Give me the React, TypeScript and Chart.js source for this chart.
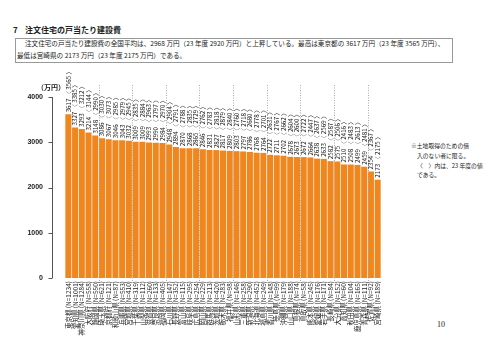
import React, { useEffect, useRef } from "react";
import { Chart, registerables } from "chart.js";
Chart.register(...registerables);

const prefectures = [
  "東京都", "愛知県", "神奈川県", "大阪府", "静岡県", "埼玉県", "京都府", "和歌山県", "兵庫県", "宮城県",
  "千葉県", "山梨県", "滋賀県", "奈良県", "福岡県", "石川県", "長野県", "富山県", "岐阜県", "広島県",
  "岡山県", "群馬県", "茨城県", "栃木県", "福井県", "山形県", "三重県", "新潟県", "北海道", "福島県",
  "香川県", "徳島県", "沖縄県", "山口県", "島根県", "鳥取県", "熊本県", "愛媛県", "岩手県", "長崎県",
  "大分県", "高知県", "秋田県", "鹿児島県", "青森県", "佐賀県", "宮崎県",
];
const sampleSizes = [
  1234, 1001, 1284, 558, 550, 621, 121, 87, 553, 410,
  319, 112, 260, 133, 405, 147, 352, 115, 295, 254,
  229, 213, 420, 283, 98, 146, 258, 290, 452, 249,
  148, 99, 179, 188, 74, 58, 245, 176, 171, 84,
  152, 60, 104, 165, 111, 92, 189,
];
const costs = [
  3617, 3327, 3293, 3214, 3148, 3086, 3067, 3046, 3043, 3032,
  3009, 3009, 2993, 2990, 2984, 2948, 2894, 2870, 2868, 2865,
  2846, 2831, 2827, 2817, 2809, 2803, 2797, 2786, 2768, 2764,
  2722, 2711, 2702, 2678, 2673, 2672, 2664, 2638, 2633, 2582,
  2575, 2510, 2508, 2499, 2459, 2354, 2173,
];
const prevCosts = [
  3565, 3385, 3212, 3144, 2990, 3030, 3073, 2985, 2979, 2945,
  2835, 2884, 2963, 2797, 2970, 2904, 2791, 2788, 2835, 2729,
  2762, 2783, 2818, 2879, 2840, 2760, 2718, 2680, 2778, 2701,
  2631, 2767, 2662, 2604, 2600, 2722, 2447, 2637, 2569, 2587,
  2506, 2416, 2483, 2613, 2481, 2367, 2175,
];
const yTicks = [0, 1000, 2000, 3000, 4000];

const JP = '"Noto Sans CJK JP", "Noto Sans", sans-serif';

export default function App() {
  const ref = useRef<HTMLCanvasElement>(null);

  useEffect(() => {
    const canvas = ref.current;
    if (!canvas) return;
    const labels = prefectures.map((p, i) => `${p} (N=${sampleSizes[i]})`);

    const overlay = {
      id: "overlay",
      afterDatasetsDraw(chart: any) {
        const { ctx, chartArea, scales } = chart;
        const x = scales.x;
        const y = scales.y;
        ctx.save();
        // dotted separators every five bars
        ctx.strokeStyle = "#a8a8a8";
        ctx.lineWidth = 1;
        ctx.setLineDash([1, 1.5]);
        for (let k = 5; k < costs.length; k += 5) {
          const px = Math.round((x.getPixelForValue(k - 1) + x.getPixelForValue(k)) / 2) + 0.5;
          ctx.beginPath();
          ctx.moveTo(px, chartArea.top - 12);
          ctx.lineTo(px, chartArea.bottom + 4);
          ctx.stroke();
        }
        ctx.setLineDash([]);
        // y axis line and ticks
        const ax = Math.round(chartArea.left - 13) + 0.5;
        ctx.strokeStyle = "#555";
        ctx.beginPath();
        ctx.moveTo(ax, y.getPixelForValue(4000));
        ctx.lineTo(ax, y.getPixelForValue(0));
        ctx.stroke();
        yTicks.forEach((t) => {
          const py = Math.round(y.getPixelForValue(t)) + 0.5;
          ctx.beginPath();
          ctx.moveTo(ax - 4, py);
          ctx.lineTo(ax, py);
          ctx.stroke();
        });
        // value labels
        ctx.fillStyle = "#222";
        ctx.font = `6.2px ${JP}`;
        ctx.textAlign = "left";
        ctx.textBaseline = "middle";
        costs.forEach((v, i) => {
          const px = x.getPixelForValue(i);
          const py = y.getPixelForValue(v) - 2;
          ctx.save();
          ctx.translate(px, py);
          ctx.rotate(-Math.PI / 2);
          ctx.fillText(`${v} 〈 ${prevCosts[i]} 〉`, 0, 0);
          ctx.restore();
        });
        ctx.restore();
      },
    };

    const chart = new Chart(canvas, {
      type: "bar",
      data: {
        labels,
        datasets: [
          {
            data: costs,
            backgroundColor: "#F0871E",
            borderWidth: 0,
            barPercentage: 0.9,
            categoryPercentage: 1,
          },
        ],
      },
      options: {
        animation: false,
        responsive: false,
        devicePixelRatio: 1,
        layout: { padding: { top: 27, right: 19, left: 0, bottom: 0 } },
        plugins: { legend: { display: false }, tooltip: { enabled: false }, title: { display: false } },
        scales: {
          x: {
            grid: { display: false, drawTicks: false },
            border: { display: false },
            ticks: {
              autoSkip: false,
              minRotation: 90,
              maxRotation: 90,
              padding: 3,
              color: "#222",
              font: { size: 6.5, family: JP },
            },
            afterFit(scale: any) {
              scale.height = 72;
            },
          },
          y: {
            min: 0,
            max: 4000,
            grid: { display: false, drawTicks: false },
            border: { display: false },
            ticks: {
              stepSize: 1000,
              padding: 22,
              color: "#222",
              font: { size: 7, family: '"Liberation Sans", Arial, sans-serif', weight: "bold" },
              callback: (v: any) => String(v),
            },
            afterFit(scale: any) {
              scale.width = 65;
            },
          },
        },
      },
      plugins: [overlay],
    });
    return () => chart.destroy();
  }, []);

  const abs = (left: number, top: number, size: number, extra: any = {}) => ({
    position: "absolute" as const,
    left,
    top,
    fontSize: size,
    lineHeight: 1,
    whiteSpace: "nowrap" as const,
    color: "#222",
    ...extra,
  });

  return (
    <div style={{ position: "absolute", left: 0, top: 0, width: 494, height: 350, background: "#fff", fontFamily: JP, overflow: "hidden" }}>
      <span style={abs(13, 26, 8, { fontWeight: "bold" })}>7</span>
      <span style={abs(25, 26, 8, { fontWeight: "bold" })}>注文住宅の戸当たり建設費</span>
      <div style={{ position: "absolute", left: 15, top: 38, width: 438, height: 25, border: "1px solid #999", boxSizing: "border-box" }} />
      <span style={abs(25, 40, 6.6)}>
        注文住宅の戸当たり建設費の全国平均は、2968 万円（23 年度 2920 万円）と上昇している。最高は東京都の 3617 万円（23 年度 3565 万円）、
      </span>
      <span style={abs(17, 52, 6.6)}>最低は宮崎県の 2173 万円（23 年度 2175 万円）である。</span>
      <canvas ref={ref} width={400} height={280} style={{ position: "absolute", left: 0, top: 70, width: 400, height: 280 }} />
      <span style={abs(37, 84, 7, { fontWeight: "bold" })}>（万円）</span>
      <span style={abs(411, 143, 5.8)}>※土地取得のための借</span>
      <span style={abs(417, 153, 5.8)}>入のない者に限る。</span>
      <span style={abs(417, 163, 5.8)}>〈　〉内は、23 年度の値</span>
      <span style={abs(417, 172, 5.8)}>である。</span>
      <span style={abs(437, 321, 8, { fontFamily: "serif" })}>10</span>
    </div>
  );
}
